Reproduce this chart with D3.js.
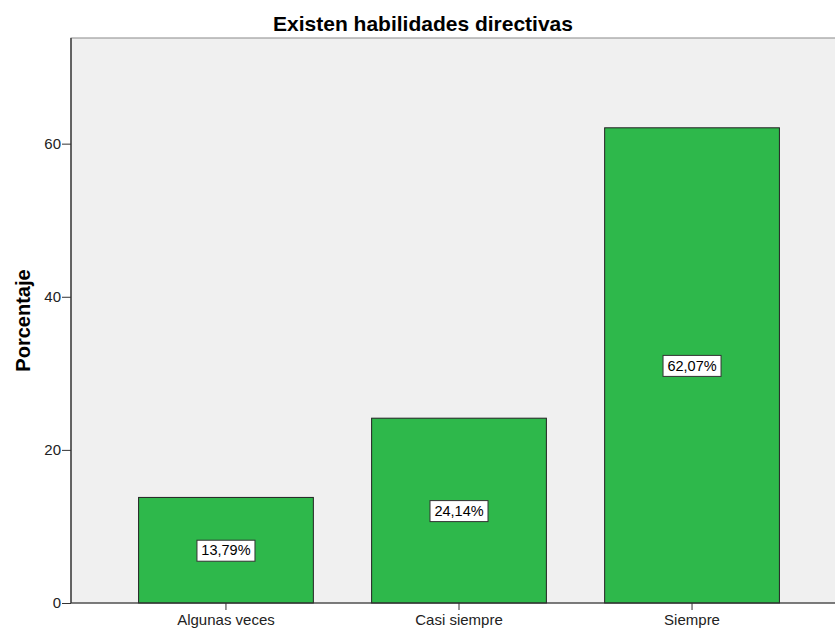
<!DOCTYPE html>
<html>
<head>
<meta charset="utf-8">
<script src="https://cdn.jsdelivr.net/npm/d3@7"></script>
<style>
  body { margin: 0; background: #ffffff; }
  svg { display: block; font-family: Arial, 'Liberation Sans', sans-serif; }
</style>
</head>
<body>
<svg id="chart" width="835" height="634"></svg>
<script>
// chart data
const categories = ['Algunas veces', 'Casi siempre', 'Siempre']
const percents = [13.79, 24.14, 62.07]
const valueLabels = ['13,79%', '24,14%', '62,07%']
const yTicks = [0, 20, 40, 60]

const svg = d3.select('#chart')
const plot = { left: 71, top: 38, right: 847, bottom: 603 }

const x = d3.scaleBand()
  .domain(categories)
  .range([plot.left, plot.right])
  .paddingInner(0.25)
  .paddingOuter(0.29)

const y = d3.scaleLinear()
  .domain([0, 73.8])
  .range([plot.bottom, plot.top])

// plot background
svg.append('rect')
  .attr('x', plot.left)
  .attr('y', plot.top)
  .attr('width', plot.right - plot.left)
  .attr('height', plot.bottom - plot.top)
  .attr('fill', '#f0f0f0')
  .attr('stroke', '#8a8a8a')
  .attr('stroke-width', 1)

// bars
svg.selectAll('.bar')
  .data(percents)
  .enter()
  .append('rect')
  .attr('class', 'bar')
  .attr('x', (d, i) => x(categories[i]))
  .attr('y', d => y(d))
  .attr('width', x.bandwidth())
  .attr('height', d => y(0) - y(d))
  .attr('fill', '#2eb84b')
  .attr('stroke', '#222222')
  .attr('stroke-width', 1)

// value labels in boxes
const lab = svg.selectAll('.lab')
  .data(percents)
  .enter()
  .append('g')
  .attr('class', 'lab')
  .attr('transform', (d, i) => `translate(${x(categories[i]) + x.bandwidth() / 2},${y(d / 2)})`)

lab.append('rect')
  .attr('x', -29)
  .attr('y', -10)
  .attr('width', 58)
  .attr('height', 21)
  .attr('fill', '#ffffff')
  .attr('stroke', '#333333')
  .attr('stroke-width', 1)

lab.append('text')
  .attr('text-anchor', 'middle')
  .attr('dy', '0.36em')
  .attr('font-size', 14.5)
  .attr('fill', '#000000')
  .text((d, i) => valueLabels[i])

// y axis
const yAxis = svg.append('g')
  .attr('transform', `translate(${plot.left},0)`)
  .call(d3.axisLeft(y).tickValues(yTicks).tickSize(9).tickPadding(1).tickFormat(d3.format('d')))
yAxis.select('.domain').attr('stroke', '#444444').attr('d', `M0,${plot.top}V${plot.bottom}`).attr('stroke-width', 1.5)
yAxis.selectAll('.tick line').attr('stroke', '#333333')
yAxis.selectAll('.tick text').attr('font-size', 15).attr('fill', '#222222').attr('font-family', 'Arial, sans-serif')

// x axis
const xAxis = svg.append('g')
  .attr('transform', `translate(0,${plot.bottom})`)
  .call(d3.axisBottom(x).tickSize(7).tickPadding(4))
xAxis.select('.domain').attr('stroke', '#333333').attr('d', `M${plot.left},0H${plot.right}`)
xAxis.selectAll('.tick line').attr('stroke', '#333333')
xAxis.selectAll('.tick text').attr('font-size', 15).attr('fill', '#222222').attr('font-family', 'Arial, sans-serif')

// title
svg.append('text')
  .attr('x', 423)
  .attr('y', 31)
  .attr('text-anchor', 'middle')
  .attr('font-size', 21)
  .attr('font-weight', 'bold')
  .text('Existen habilidades directivas')

// y axis title
svg.append('text')
  .attr('transform', `translate(30,${(plot.top + plot.bottom) / 2}) rotate(-90)`)
  .attr('text-anchor', 'middle')
  .attr('font-size', 20)
  .attr('font-weight', 'bold')
  .text('Porcentaje')
</script>
</body>
</html>
